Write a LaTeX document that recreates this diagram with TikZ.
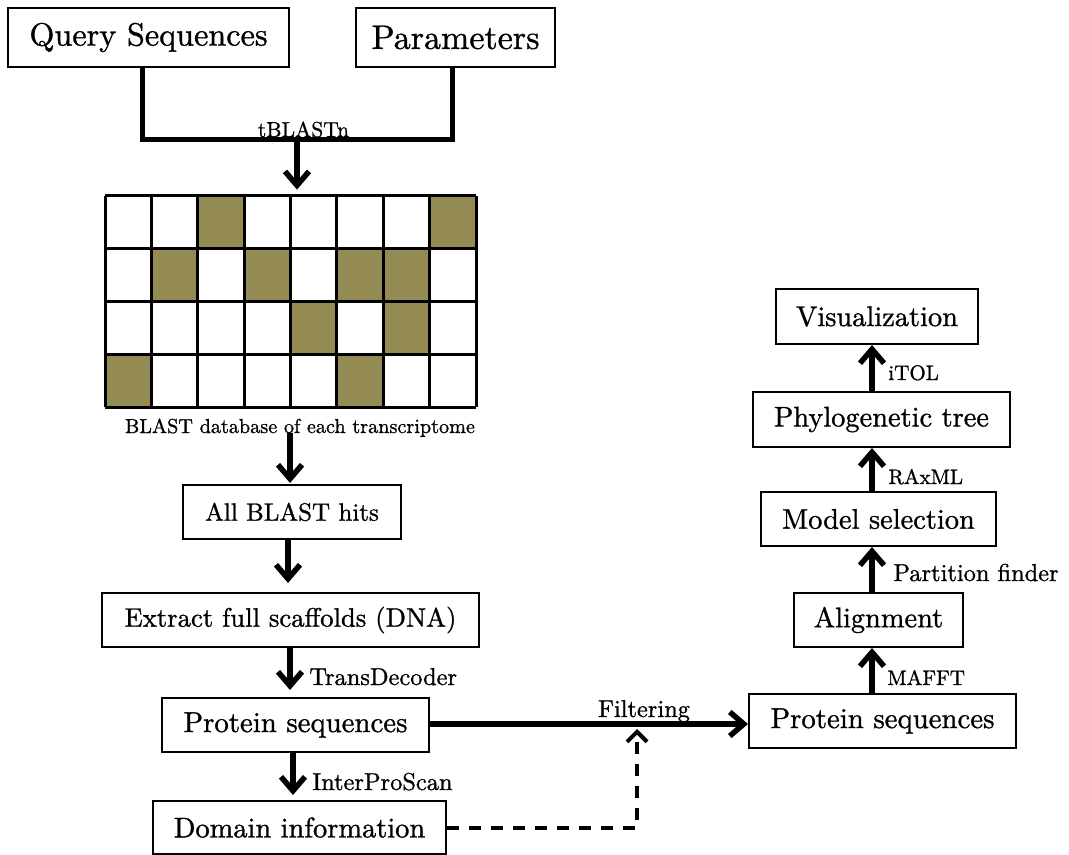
\documentclass[tikz,border=0pt]{standalone}
\usepackage{fontspec}
\setmainfont{lmroman10-regular.otf}[FakeBold=1]
\usetikzlibrary{arrows.meta}
\definecolor{hit}{HTML}{948A54}
\begin{document}
\begin{tikzpicture}[x=0.5pt,y=-0.5pt,
  box/.style={draw, line width=1pt, inner sep=0pt, font=\fontsize{14.2}{17}\selectfont},
  bigbox/.style={box, font=\fontsize{16.1}{19}\selectfont},
  flow/.style={line width=2.75pt, -{Straight Barb[length=7pt,width=12pt]}},
  lbl/.style={inner sep=0pt, font=\fontsize{12.2}{14}\selectfont},
  slbl/.style={inner sep=0pt, font=\fontsize{10.5}{13}\selectfont}]
\useasboundingbox (0,0) rectangle (1069,855);

% inputs
\node[bigbox, minimum width=140.5pt, minimum height=29.5pt] (q) at (148.5,37.5) {Query Sequences};
\node[bigbox, minimum width=99.5pt, minimum height=29.5pt, font=\fontsize{17}{19}\selectfont] (p) at (455.5,37.5) {Parameters};

% merge into the search
\coordinate (j) at (297,140);
\draw[line width=2.5pt] (q.south -| 142,0) |- (j) -| (p.south -| 452,0);
\node[slbl, font=\fontsize{10.8}{13}\selectfont, anchor=base] (tb) at (303.5,137) {tBLASTn};

% database grid
\node[minimum width=185.5pt, minimum height=105.5pt, inner sep=0pt] (db) at (290.5,301.5) {};
\foreach \c/\r in {2/0,7/0,1/1,3/1,5/1,6/1,4/2,6/2,0/3,5/3}
  \fill[hit] (105+\c*46.375,196+\r*52.75) rectangle ++(46.375,52.75);
\foreach \c in {0,...,8}
  \draw[line width=1.5pt] (105+\c*46.375,196) -- (105+\c*46.375,407);
\foreach \r in {0,...,4}
  \draw[line width=1.5pt] (105,196+\r*52.75) -- (476,196+\r*52.75);
\draw[flow, shorten >=3pt] (j) -- (j |- db.north);
\node[slbl, font=\fontsize{10.1}{12}\selectfont, anchor=base] (dbl) at (300,433) {BLAST database of each transcriptome};

% left column
\node[box, minimum width=109pt, minimum height=27pt, font=\fontsize{12.5}{15}\selectfont] (hits) at (292,512) {All BLAST hits};
\node[box, minimum width=188.5pt, minimum height=27pt, font=\fontsize{13.35}{16}\selectfont] (ext) at (290.5,620) {Extract full scaffolds (DNA)};
\node[box, minimum width=133.5pt, minimum height=27pt, font=\fontsize{14.4}{17}\selectfont] (prot) at (295.5,725) {Protein sequences};
\node[box, minimum width=146.5pt, minimum height=26.5pt] (dom) at (299.5,827.5) {Domain information};

\draw[flow, shorten >=1pt] (290,433) -- (290,485);
\draw[flow, shorten >=4.5pt] (hits.south -| 288,0) -- (ext.north -| 288,0);
\draw[flow, shorten >=3.5pt] (ext.south -| 290,0) -- (prot.north -| 290,0);
\node[lbl, anchor=base west] (td) at (309,685) {TransDecoder};
\draw[flow, shorten >=2.5pt] (prot.south -| 293,0) -- (dom.north -| 293,0);
\node[lbl, anchor=base west] (ips) at (312,790) {InterProScan};

% right column
\node[box, minimum width=133.5pt, minimum height=27pt, font=\fontsize{14.4}{17}\selectfont] (prot2) at (882.5,721) {Protein sequences};
\node[box, minimum width=84.5pt, minimum height=27pt] (aln) at (878.5,620) {Alignment};
\node[box, minimum width=117.5pt, minimum height=27pt] (mod) at (878.5,519) {Model selection};
\node[box, minimum width=128.5pt, minimum height=27.5pt] (phy) at (881.5,419.5) {Phylogenetic tree};
\node[box, minimum width=101pt, minimum height=27.5pt] (vis) at (877,316.5) {Visualization};

\draw[flow] (prot2.north -| 872,0) -- (aln.south -| 872,0);
\node[slbl, anchor=base west] (mafft) at (887,685) {MAFFT};
\draw[flow] (aln.north -| 872,0) -- (mod.south -| 872,0);
\node[lbl, anchor=base west] (pf) at (893,581) {Partition finder};
\draw[flow] (mod.north -| 872,0) -- (phy.south -| 872,0);
\node[slbl, anchor=base west] (rax) at (888,484) {RAxML};
\draw[flow] (phy.north -| 872,0) -- (vis.south -| 872,0);
\node[slbl, anchor=base west] (itol) at (888,380) {iTOL};

% filtering step
\draw[flow] (prot.east |- 0,724) -- (prot2.west |- 0,724);
\node[lbl, anchor=base] (filt) at (644,717) {Filtering};
\coordinate (dm) at (637,729);
\draw[line width=2pt, dash pattern=on 6pt off 5pt, -{Straight Barb[length=5pt,width=10pt]}]
  (dom.east) -| (dm);
\end{tikzpicture}
\end{document}
